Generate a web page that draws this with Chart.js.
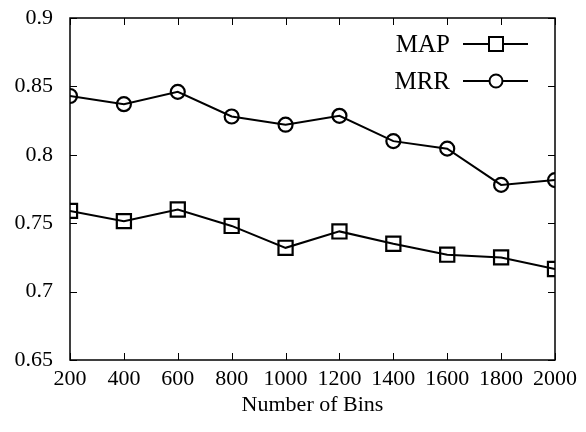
<!DOCTYPE html>
<html>
<head>
<meta charset="utf-8">
<script src="https://cdn.jsdelivr.net/npm/chart.js@4/dist/chart.umd.min.js"></script>
<style>
html,body{margin:0;padding:0;background:#fff;}
#wrap{width:586px;height:432px;}
</style>
</head>
<body>
<div id="wrap"><canvas id="c" width="586" height="432"></canvas></div>
<script>
const bins = [200, 400, 600, 800, 1000, 1200, 1400, 1600, 1800, 2000];
const mapValues = [0.759, 0.7515, 0.760, 0.748, 0.732, 0.744, 0.735, 0.727, 0.725, 0.7165];
const mrrValues = [0.843, 0.837, 0.846, 0.828, 0.822, 0.8285, 0.810, 0.8045, 0.778, 0.7815];
const yTicks = [0.65, 0.7, 0.75, 0.8, 0.85, 0.9];
const seriesNames = ['MAP', 'MRR'];
const xTitle = 'Number of Bins';

const FONT = '"Liberation Serif", "DejaVu Serif", serif';
const FS = 22;
const LEG_FS = 25;

const frame = {
  id: 'frame',
  afterDraw(chart) {
    const ctx = chart.ctx, a = chart.chartArea;
    const xs = chart.scales.x, ys = chart.scales.y;
    ctx.save();
    ctx.strokeStyle = '#000';
    ctx.lineWidth = 1.5;
    ctx.strokeRect(a.left, a.top, a.right - a.left, a.bottom - a.top);
    const L = 7;
    ctx.lineWidth = 1;
    ctx.beginPath();
    bins.forEach(v => {
      const px = Math.round(xs.getPixelForValue(v)) + 0.5;
      ctx.moveTo(px, a.bottom); ctx.lineTo(px, a.bottom - L);
      ctx.moveTo(px, a.top); ctx.lineTo(px, a.top + L);
    });
    yTicks.forEach(v => {
      const py = Math.round(ys.getPixelForValue(v)) + 0.5;
      ctx.moveTo(a.left, py); ctx.lineTo(a.left + L, py);
      ctx.moveTo(a.right, py); ctx.lineTo(a.right - L, py);
    });
    ctx.stroke();

    // legend
    ctx.font = LEG_FS + 'px ' + FONT;
    ctx.fillStyle = '#000';
    ctx.textAlign = 'right';
    ctx.textBaseline = 'alphabetic';
    const rows = [44, 81];
    chart.data.datasets.forEach((ds, i) => {
      const y = rows[i];
      ctx.fillText(ds.label, 450, y + 8);
      ctx.lineWidth = 2;
      ctx.beginPath();
      ctx.moveTo(463, y); ctx.lineTo(528, y);
      ctx.stroke();
      ctx.fillStyle = '#fff';
      if (ds.pointStyle === 'rect') {
        ctx.fillRect(489, y - 7, 14, 14);
        ctx.strokeRect(489, y - 7, 14, 14);
      } else {
        ctx.beginPath();
        ctx.arc(496, y, 6.5, 0, Math.PI * 2);
        ctx.fill(); ctx.stroke();
      }
      ctx.fillStyle = '#000';
    });
    ctx.restore();
  }
};

new Chart(document.getElementById('c'), {
  type: 'line',
  data: {
    datasets: [
      {
        label: seriesNames[0],
        data: bins.map((b, i) => ({x: b, y: mapValues[i]})),
        borderColor: '#000', borderWidth: 2,
        pointStyle: 'rect', pointRadius: 10, pointBorderWidth: 2.2,
        pointBackgroundColor: 'rgba(255,255,255,0)', pointBorderColor: '#000',
        tension: 0, fill: false
      },
      {
        label: seriesNames[1],
        data: bins.map((b, i) => ({x: b, y: mrrValues[i]})),
        borderColor: '#000', borderWidth: 2,
        pointStyle: 'circle', pointRadius: 7, pointBorderWidth: 2.2,
        pointBackgroundColor: 'rgba(255,255,255,0)', pointBorderColor: '#000',
        tension: 0, fill: false
      }
    ]
  },
  options: {
    responsive: false,
    animation: false,
    devicePixelRatio: 1,
    layout: { padding: { top: 18, right: 31, left: 0, bottom: 0 } },
    plugins: { legend: { display: false }, tooltip: { enabled: false } },
    scales: {
      x: {
        type: 'linear', min: 200, max: 2000,
        afterBuildTicks(s) { s.ticks = bins.map(v => ({value: v})); },
        afterFit(s) { s.height = 72; s.paddingLeft = 0; s.paddingRight = 0; },
        grid: { display: false, drawTicks: false },
        border: { display: false },
        ticks: { color: '#000', font: { family: FONT, size: FS }, padding: 6, maxRotation: 0, autoSkip: false,
          callback: v => String(v) },
        title: { display: true, text: xTitle, color: '#000', font: { family: FONT, size: FS }, padding: { top: 4, bottom: 14 } }
      },
      y: {
        min: 0.65, max: 0.9,
        afterBuildTicks(s) { s.ticks = yTicks.map(v => ({value: v})); },
        afterFit(s) { s.width = 70; s.paddingTop = 0; s.paddingBottom = 0; },
        grid: { display: false, drawTicks: false },
        border: { display: false },
        ticks: { color: '#000', font: { family: FONT, size: FS }, padding: 17,
          callback: v => String(Math.round(v * 100) / 100) }
      }
    }
  },
  plugins: [frame]
});
</script>
</body>
</html>
